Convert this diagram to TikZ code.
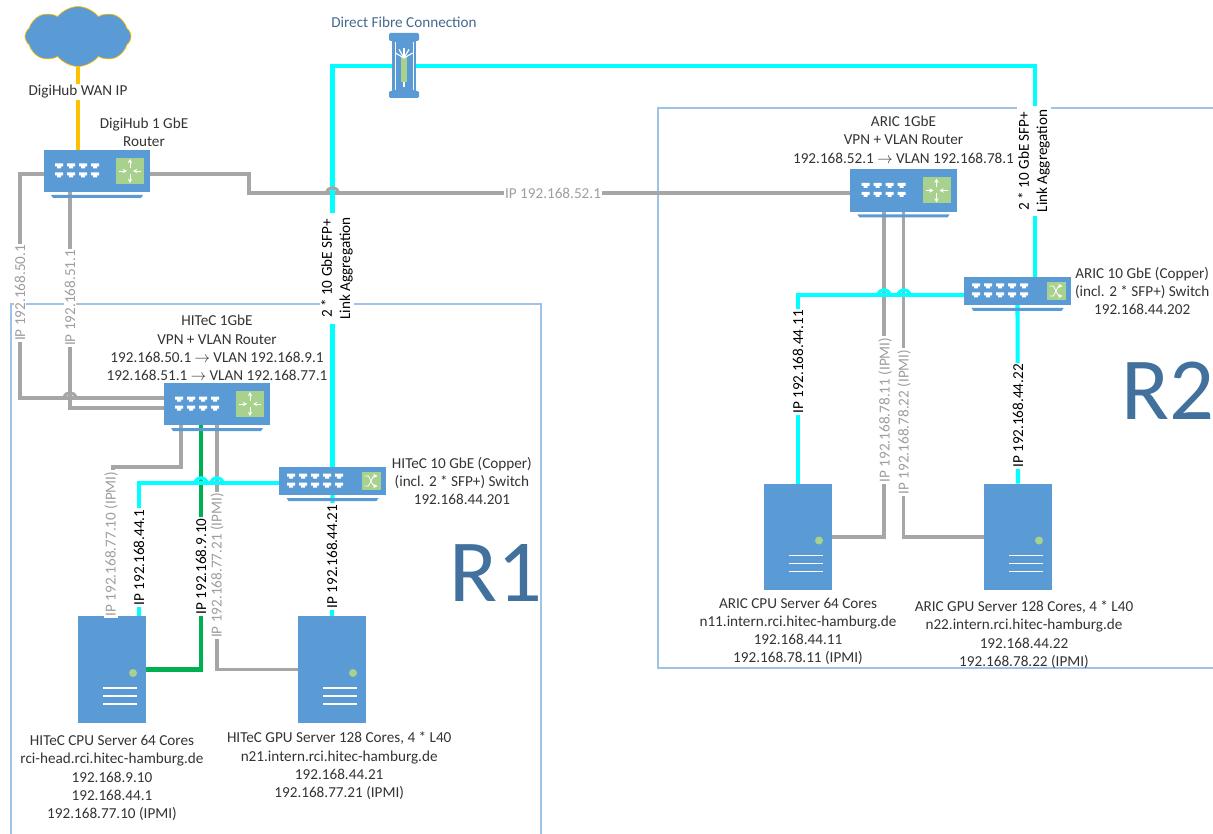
\documentclass[tikz,border=0pt]{standalone}
\usepackage{fontspec}
\setmainfont{Carlito}
\usetikzlibrary{arrows.meta, shapes.symbols, positioning}

\definecolor{devblue}{HTML}{5B9BD5}
\definecolor{devgreen}{HTML}{A9D18E}
\definecolor{linkgray}{HTML}{A6A6A6}
\definecolor{linkcyan}{HTML}{00FFFF}
\definecolor{linkgreen}{HTML}{00B050}
\definecolor{linkorange}{HTML}{FFC000}
\definecolor{framecol}{HTML}{9DC3E6}
\definecolor{roomcol}{HTML}{41719C}
\definecolor{fibretext}{HTML}{44688F}
\definecolor{capcol}{HTML}{333333}

%% ports of a device, two rows, #1 = columns, #2 = first column
\newcommand{\devports}[2]{
    \foreach \col in {1,...,#1} {
        \foreach \row in {-5,4} {
            \fill[white, shift={(#2+12*\col,\row)}]
                (-4,-2.5) -- (4,-2.5) -- (4,0.5) -- (2,0.5) -- (2,2.5)
                -- (-2,2.5) -- (-2,0.5) -- (-4,0.5) -- cycle;
        }
    }
}
%% router look on top of a node
\newcommand{\routerdeco}[1]{
    \begin{scope}[shift={(#1.center)}]
        \devports{4}{-50}
        \fill[devgreen] (19,-13) rectangle (47,13);
        \draw[glyph] (33,-3) -- (33,-12);
        \draw[glyph] (33,3) -- (33,12);
        \draw[glyph] (22,0) -- (30,0);
        \draw[glyph] (44,0) -- (36,0);
        \fill[devblue] (-46,24) -- (46,24) -- (44,27) -- (-44,27) -- cycle;
    \end{scope}
}
%% switch look on top of a node
\newcommand{\switchdeco}[1]{
    \begin{scope}[shift={(#1.center)}]
        \devports{5}{-53.5}
        \fill[devgreen] (29,-9) rectangle (48,9);
        \draw[glyph] (32,-5) -- (36,-5) -- (41,5) -- (45,5);
        \draw[glyph] (32,5) -- (36,5) -- (41,-5) -- (45,-5);
        \fill[devblue] (-46,17) -- (46,17) -- (44,20) -- (-44,20) -- cycle;
    \end{scope}
}
%% server look on top of a node
\newcommand{\serverdeco}[1]{
    \begin{scope}[shift={(#1.center)}]
        \fill[devgreen] (21,3.5) circle (4);
        \foreach \rowy in {18.5,26.5,34.5} {
            \draw[white, line width=1.3pt] (-9,\rowy) -- (25,\rowy);
        }
    \end{scope}
}
%% small bridge of a crossing line
\newcommand{\linejump}[4]{
    \draw[#1, line width=2.2pt] (#2-6,#3) .. controls (#2-5,#3-#4) and (#2+5,#3-#4) .. (#2+6,#3);
}

\begin{document}
\begin{tikzpicture}[
    x=0.025cm, y=-0.025cm,
    every node/.style = {font=\fontsize{10.8}{13}\selectfont, text=capcol},
    glyph/.style = {-{Stealth[length=3pt,width=3pt]}, white, line width=0.6pt},
    router/.style = {
        rectangle, fill=devblue, outer sep=0pt, inner sep=0pt,
        minimum width=2.66cm, minimum height=1.05cm
    },
    switchbox/.style = {
        rectangle, fill=devblue, outer sep=0pt, inner sep=0pt,
        minimum width=2.66cm, minimum height=0.7cm
    },
    server/.style = {
        rectangle, fill=devblue, outer sep=0pt, inner sep=0pt,
        minimum width=1.7cm, minimum height=2.67cm
    },
    wanlink/.style  = {line width=2.9pt, color=linkorange},
    graylink/.style = {line width=2.8pt, color=linkgray},
    cyanlink/.style = {line width=2.9pt, color=linkcyan},
    greenlink/.style= {line width=2.9pt, color=linkgreen},
    roomframe/.style= {line width=0.9pt, color=framecol},
    caption/.style  = {align=center, inner sep=0pt},
    iplbl/.style    = {rotate=90, fill=white, inner xsep=1pt, inner ysep=0.5pt, text=black},
    ipgray/.style   = {iplbl, text=gray!75},
    aggrlbl/.style  = {iplbl, align=center, inner xsep=3pt},
    roomlbl/.style  = {font=\fontsize{63}{63}\selectfont, text=roomcol, inner sep=0pt}
]
\useasboundingbox (0,0) rectangle (1213,834);

%% Room frames
\draw[roomframe] (11,834) |- (541,304) -- (541,834);
\draw[roomframe] (1213,108) -| (658,668) -- (1213,668);

%% Devices
\node[cloud, cloud puffs=8, cloud puff arc=105, aspect=1.7, fill=devblue, draw=linkorange,
      line width=0.5pt, minimum width=2.65cm, minimum height=1.5cm, inner sep=0pt]
      (wan) at (78,36.5) {};
\node[router]    (dhub)    at (97,171)   {};
\node[router]    (hrouter) at (217,404)  {};
\node[switchbox] (hswitch) at (332.5,481) {};
\node[server]    (hcpu)    at (112,669.5) {};
\node[server]    (hgpu)    at (332,669.5) {};
\node[router]    (arouter) at (903.5,190.5) {};
\node[switchbox] (aswitch) at (1017.5,291) {};
\node[server]    (acpu)    at (798,537)  {};
\node[server]    (agpu)    at (1018,537) {};
\node[rectangle, fill=devblue, outer sep=0pt, minimum width=0.58cm, minimum height=1.28cm]
      (fibre) at (404,66) {};

%% Gray uplinks
\draw[wanlink] (wan.south) -- (wan.south |- dhub.north);
\draw[graylink] ([yshift=-0.075cm]dhub.west) -- ++(-24,0) |- ([yshift=0.15cm]hrouter.west);
\draw[graylink] ([xshift=-0.675cm]dhub.south) |- ([yshift=-0.1cm]hrouter.west);
\draw[graylink] ([yshift=-0.075cm]dhub.east) -- ++(99,0) |- ([yshift=-0.06cm]arouter.west);

%% Links below the HITeC router
\coordinate (ipmibend) at (113,467);
\draw[graylink]  ([xshift=-0.9cm]hrouter.south) |- (ipmibend) -- (ipmibend |- hcpu.north);
\draw[greenlink] ([xshift=-0.4cm]hrouter.south) |- (hcpu.east);
\draw[graylink]  (hrouter.south) |- (hgpu.west);

%% Links below the ARIC router
\draw[graylink] ([xshift=-0.49cm]arouter.south) |- (acpu.east);
\draw[graylink] (arouter.south) |- (agpu.west);

%% Fibre links
\draw[cyanlink] (hswitch.north) |- (fibre.west);
\draw[cyanlink] (fibre.east) -| ([xshift=0.44cm]aswitch.north);
\draw[cyanlink] ([yshift=-0.05cm]hswitch.west) -| ([xshift=0.68cm]hcpu.north);
\draw[cyanlink] (hswitch.south) -- (hgpu.north);
\draw[cyanlink] ([yshift=-0.1cm]aswitch.west) -| (acpu.north);
\draw[cyanlink] (aswitch.south) -- (agpu.north);

%% Line bridges
\linejump{linkgray}{332.5}{193}{7}
\linejump{linkgray}{70}{398}{7}
\foreach \jx in {201,217} {\linejump{linkcyan}{\jx}{483}{7}}
\foreach \jx in {884,904} {\linejump{linkcyan}{\jx}{295}{7}}

%% Device looks
\routerdeco{dhub}
\routerdeco{hrouter}
\routerdeco{arouter}
\switchdeco{hswitch}
\switchdeco{aswitch}
\serverdeco{hcpu}
\serverdeco{hgpu}
\serverdeco{acpu}
\serverdeco{agpu}

%% Fibre connector look
\begin{scope}[shift={(fibre.center)}]
    \fill[devblue, rounded corners=1pt] (-15,-33) rectangle (15,-25);
    \fill[devblue, rounded corners=1pt] (-15,25) rectangle (15,32);
    \draw[white, line width=0.5pt] (-9,-24) -- (-9,24) (9,-24) -- (9,24);
    \fill[devgreen] (-3,-9) rectangle (3,16);
    \draw[white, line width=0.9pt] (0,16) -- (0,21);
    \foreach \ang in {-60,-30,0,30,60} {
        \draw[white, line width=0.8pt] (0,-8) -- ++(\ang-90:10);
    }
\end{scope}

%% Device captions
\node[caption, above=0.05cm of hrouter]
    (hrouterlbl) {HITeC 1GbE\\VPN + VLAN Router\\192.168.50.1 $\rightarrow$ VLAN 192.168.9.1\\192.168.51.1 $\rightarrow$ VLAN 192.168.77.1};
\node[caption, right=0.15cm of hswitch]
    (hswitchlbl) {HITeC 10 GbE (Copper)\\(incl. 2 * SFP+) Switch\\192.168.44.201};
\node[caption, below=0.3cm of hcpu]
    (hcpulbl) {HITeC CPU Server 64 Cores\\rci-head.rci.hitec-hamburg.de\\192.168.9.10\\192.168.44.1\\192.168.77.10 (IPMI)};
\node[caption, below=0.22cm of hgpu, xshift=0.18cm]
    (hgpulbl) {HITeC GPU Server 128 Cores, 4 * L40\\n21.intern.rci.hitec-hamburg.de\\192.168.44.21\\192.168.77.21 (IPMI)};
\node[caption, above=0.15cm of arouter]
    (arouterlbl) {ARIC 1GbE\\VPN + VLAN Router\\192.168.52.1 $\rightarrow$ VLAN 192.168.78.1};
\node[caption, right=0.1cm of aswitch]
    (aswitchlbl) {ARIC 10 GbE (Copper)\\(incl. 2 * SFP+) Switch\\192.168.44.202};
\node[caption, below=0.18cm of acpu]
    (acpulbl) {ARIC CPU Server 64 Cores\\n11.intern.rci.hitec-hamburg.de\\192.168.44.11\\192.168.78.11 (IPMI)};
\node[caption, below=0.25cm of agpu, xshift=0.15cm]
    (agpulbl) {ARIC GPU Server 128 Cores, 4 * L40\\n22.intern.rci.hitec-hamburg.de\\192.168.44.22\\192.168.78.22 (IPMI)};
\node[caption] (dhublbl) at (144,132) {DigiHub 1 GbE\\Router};
\node[caption, fill=white, inner ysep=1pt, inner xsep=2pt] (wanlbl) at (78,92) {DigiHub WAN IP};
\node[caption, text=fibretext] (fibrelbl) at (404,22) {Direct Fibre Connection};

%% Link labels
\node[ipgray] (l50) at (20,293)  {IP 192.168.50.1};
\node[ipgray] (l51) at (70,298)  {IP 192.168.51.1};
\node[ipgray, rotate=-90] (l52) at (553,193) {IP 192.168.52.1};
\node[aggrlbl] (laggh) at (337,268.5) {2 * 10 GbE SFP+\\Link Aggregation};
\node[aggrlbl] (lagga) at (1034,161) {2 * 10 GbE SFP+\\Link Aggregation};
\node[ipgray] (l7710) at (111,544) {IP 192.168.77.10 (IPMI)};
\node[iplbl]  (l441)  at (139,557.5) {IP 192.168.44.1};
\node[iplbl]  (l910)  at (201,566.5) {IP 192.168.9.10};
\node[ipgray] (l7721) at (217,565.5) {IP 192.168.77.21 (IPMI)};
\node[iplbl]  (l4421) at (332,556.5) {IP 192.168.44.21};
\node[iplbl]  (l4411) at (798,362) {IP 192.168.44.11};
\node[ipgray] (l7811) at (885,410) {IP 192.168.78.11 (IPMI)};
\node[ipgray] (l7822) at (904,422) {IP 192.168.78.22 (IPMI)};
\node[iplbl]  (l4422) at (1018,416) {IP 192.168.44.22};

%% Room names
\node[roomlbl] (r1lbl) at (496,573) {R1};
\node[roomlbl] (r2lbl) at (1168,391) {R2};

\end{tikzpicture}
\end{document}
